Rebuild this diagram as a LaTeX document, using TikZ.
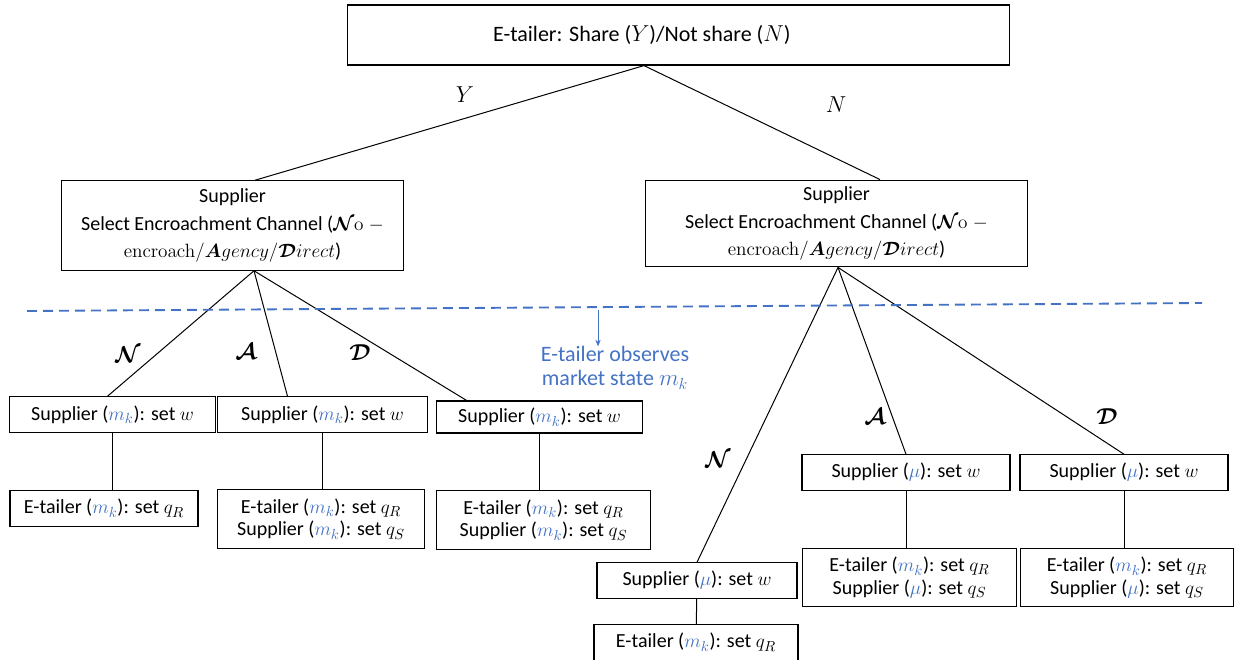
\documentclass[tikz,border=0pt]{standalone}
\usepackage{amsmath,amssymb,bm}
\usepackage[no-math]{fontspec}
\setmainfont{Carlito}
\usepackage{tikz}
\usetikzlibrary{arrows.meta,positioning,calc}
\definecolor{obsblue}{HTML}{4472C4}

\newcommand{\mk}{\textcolor{obsblue}{$m_k$}}
\newcommand{\mmu}{\textcolor{obsblue}{$\mu$}}

\begin{document}
\begin{tikzpicture}[
      x=0.75pt, y=-0.75pt,
      box/.style={draw, line width=0.9pt, inner sep=1pt, align=center, font=\fontsize{15}{17}\selectfont},
      wbox/.style={box, minimum height=26.5pt},
      qbox/.style={box, minimum height=44pt},
      br/.style={line width=0.75pt},
      lab/.style={font=\fontsize{17}{19}\selectfont}
    ]
    \useasboundingbox (0,0) rectangle (1235,660);
    % root and channel choice
    \node[box, minimum width=497pt, minimum height=45pt, font=\fontsize{16.5}{18}\selectfont] (root) at (678.5,35)
      {E-tailer: Share ($Y$)/Not share ($N$)\hspace*{55pt}};
    \node[box, minimum width=256pt, minimum height=67pt, font=\fontsize{15}{20.6}\selectfont] (supL) at (232.5,225.5)
      {Supplier\\Select Encroachment Channel ($\bm{\mathcal{N}}\mathrm{o}\;-$\\$\mathrm{encroach}/\bm{A}gency/\bm{\mathcal{D}}irect$)};
    \node[box, minimum width=286pt, minimum height=65pt, font=\fontsize{15}{20.6}\selectfont] (supR) at (836.5,223.5)
      {Supplier\\Select Encroachment Channel ($\bm{\mathcal{N}}\mathrm{o}\;-$\\$\mathrm{encroach}/\bm{A}gency/\bm{\mathcal{D}}irect$)};

    % left subtree
    \node[wbox, minimum width=154pt] (lw1) at (112.5,414.5) {Supplier (\mk): set $w$};
    \node[wbox, minimum width=157pt] (lw2) at (322.5,414.5) {Supplier (\mk): set $w$};
    \node[wbox, minimum width=155pt, minimum height=24pt] (lw3) at (539.5,417) {Supplier (\mk): set $w$};
    \node[wbox, minimum width=141pt] (lq1) at (104,508.5) {E-tailer (\mk): set $q_R$};
    \node[qbox, minimum width=155pt] (lq2) at (321,519) {E-tailer (\mk): set $q_R$\\Supplier (\mk): set $q_S$};
    \node[qbox, minimum width=161pt] (lq3) at (543.5,520) {E-tailer (\mk): set $q_R$\\Supplier (\mk): set $q_S$};

    % right subtree
    \node[wbox, minimum width=150pt] (rwN) at (697,580.5) {Supplier (\mmu): set $w$};
    \node[wbox, minimum width=153pt] (rqN) at (696,642.5) {E-tailer (\mk): set $q_R$};
    \node[wbox, minimum width=156pt] (rwA) at (906,472.5) {Supplier (\mmu): set $w$};
    \node[wbox, minimum width=156pt] (rwD) at (1124,472.5) {Supplier (\mmu): set $w$};
    \node[qbox, minimum width=161pt] (rqA) at (909.5,577.5) {E-tailer (\mk): set $q_R$\\Supplier (\mmu): set $q_S$};
    \node[qbox, minimum width=160pt] (rqD) at (1127,577.5) {E-tailer (\mk): set $q_R$\\Supplier (\mmu): set $q_S$};

    % branches
    \coordinate (rootfoot) at ($(root.south)+(-34.5,0)$);
    \coordinate (supLfoot) at ($(supL.south)+(21.5,0)$);
    \coordinate (supRfoot) at ($(supR.south)+(1.5,0)$);
    \draw[br] (rootfoot) -- ($(supL.north)+(22.5,0)$);
    \draw[br] (rootfoot) -- ($(supR.north)+(43.5,0)$);
    \draw[br] (supLfoot) -- ($(lw1.north)+(-5,0)$);
    \draw[br] (supLfoot) -- ($(lw2.north)+(-35,0)$);
    \draw[br] (supLfoot) -- ($(lw3.north)+(-73,0)$);
    \draw[br] (supRfoot) -- (rwN.north);
    \draw[br] (supRfoot) -- (rwA.north);
    \draw[br] (supRfoot) -- (rwD.north);
    \draw[br] (lw1) -- (lq1.north -| lw1);
    \draw[br] (lw2) -- (lq2.north -| lw2);
    \draw[br] (lw3) -- (lq3.north -| lw3);
    \draw[br] (rwN) -- (rqN);
    \draw[br] (rwA) -- (rqA.north -| rwA);
    \draw[br] (rwD) -- (rqD.north -| rwD);

    % branch labels
    \node[lab] (yl) at (465,95) {$Y$};
    \node[lab] (nl) at (836,105) {$N$};
    \node[lab] (lN) at (128,355) {$\bm{\mathcal{N}}$};
    \node[lab] (lA) at (246,352) {$\bm{\mathcal{A}}$};
    \node[lab] (lD) at (360,353) {$\bm{\mathcal{D}}$};
    \node[lab] (rN) at (718,460) {$\bm{\mathcal{N}}$};
    \node[lab] (rA) at (875,417) {$\bm{\mathcal{A}}$};
    \node[lab] (rD) at (1107,417) {$\bm{\mathcal{D}}$};

    % information line
    \coordinate (dl) at (27,311);
    \coordinate (dr) at (1202,303);
    \draw[obsblue, line width=1.4pt, dash pattern=on 7.5pt off 4.5pt] (dl) -- (dr);
    \node[obsblue, align=center, inner sep=0pt, font=\fontsize{16.5}{18}\selectfont] (obs) at (615,368)
      {E-tailer observes\\market state $m_k$};
    \coordinate (obstop) at (598,310);
    \draw[obsblue, line width=0.75pt, -{Stealth[length=5pt,width=4pt]}] (obstop) -- (obs.north -| obstop);
  \end{tikzpicture}
\end{document}
